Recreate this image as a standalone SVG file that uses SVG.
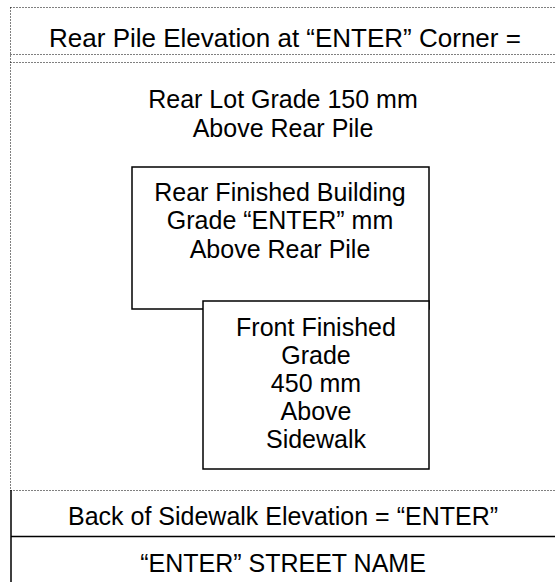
<svg xmlns="http://www.w3.org/2000/svg" width="555" height="582" viewBox="0 0 555 582">
<style>
.dot{fill:none;stroke:#000;stroke-width:1;stroke-dasharray:1 2}
.sol{fill:none;stroke:#000;stroke-width:1.5}
.box{fill:#fff;stroke:#000;stroke-width:1.5}
text{font-family:"Liberation Sans",Arial,sans-serif;font-size:25px;fill:#000;text-anchor:middle}
.t{font-size:26px}
</style>
<rect width="555" height="582" fill="#fff"/>
<g id="frame">
<path class="dot" d="M10.5 7.5H555M10.5 7.5V490M10.5 54.5H555M10.5 62.5H555M10.5 490.5H555"/>
<path class="sol" d="M11 490V582M11 536.5H555"/>
</g>
<g id="title"><text class="t" x="285" y="47">Rear Pile Elevation at “ENTER” Corner =</text></g>
<g id="rear-lot"><text x="283" y="108">Rear Lot Grade 150 mm</text><text x="283" y="137">Above Rear Pile</text></g>
<g id="rear-building">
<rect class="box" x="132" y="167" width="297" height="142"/>
<text x="280" y="201">Rear Finished Building</text><text x="280" y="229">Grade “ENTER” mm</text><text x="280" y="258">Above Rear Pile</text>
</g>
<g id="front-grade">
<rect class="box" x="203" y="301" width="226" height="168"/>
<text x="316" y="336">Front Finished</text><text x="316" y="364">Grade</text><text x="316" y="392">450 mm</text><text x="316" y="420">Above</text><text x="316" y="448">Sidewalk</text>
</g>
<g id="sidewalk"><text x="283" y="525">Back of Sidewalk Elevation = “ENTER”</text></g>
<g id="street"><text x="283" y="572">“ENTER” STREET NAME</text></g>
<g id="connectors"/>
</svg>
